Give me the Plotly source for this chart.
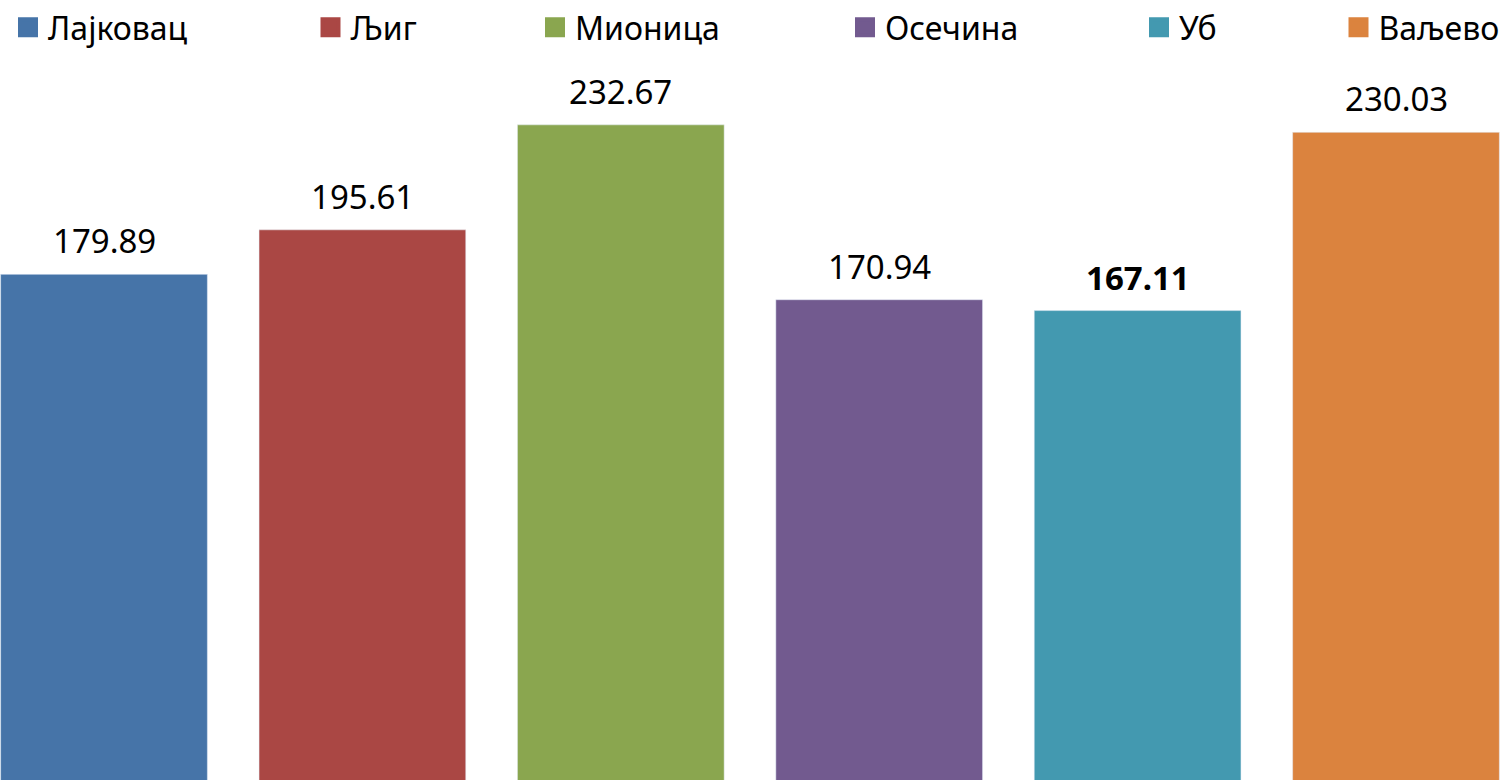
import plotly.graph_objects as go

categories = ["Лајковац", "Љиг", "Мионица", "Осечина", "Уб", "Ваљево"]
values = [179.89, 195.61, 232.67, 170.94, 167.11, 230.03]
colors = ["#4674A8", "#AA4744", "#8AA64F", "#725A8F", "#4399B0", "#DB833E"]
bold_flags = [False, False, False, False, True, False]
legend_centers_px = [26, 328.5, 553, 863, 1157, 1356.5]

W, H = 1506, 780
FONT = "Noto Sans"

fig = go.Figure()
for i, (cat, val, col) in enumerate(zip(categories, values, colors)):
    fig.add_trace(go.Bar(
        x=[cat], y=[val], name=cat, marker_color=col, width=0.8,
        showlegend=False, hoverinfo="x+y",
    ))
    # legend proxy (larger square than plotly's default bar swatch)
    lg = "legend" if i == 0 else f"legend{i + 1}"
    fig.add_trace(go.Scatter(
        x=[None], y=[None], mode="markers", name=cat,
        marker=dict(symbol="square", size=16, color=col, line=dict(color=col, width=4)),
        legend=lg, showlegend=True,
    ))

annotations = []
for cat, val, b in zip(categories, values, bold_flags):
    txt = f"{val:.2f}"
    if b:
        txt = f"<b>{txt}</b>"
    annotations.append(dict(
        x=cat, y=val, xref="x", yref="y", text=txt, showarrow=False,
        yanchor="bottom", xanchor="center", yshift=9,
        font=dict(family=FONT, size=33, color="#000000"),
    ))

layout_legends = {}
for i, cx in enumerate(legend_centers_px):
    key = "legend" if i == 0 else f"legend{i + 1}"
    layout_legends[key] = dict(
        x=(cx - 18) / W, xanchor="left", y=1, yanchor="top",
        orientation="h", bgcolor="rgba(0,0,0,0)", borderwidth=0,
        font=dict(family=FONT, size=32, color="#000000"),
        itemsizing="trace",
    )

# category scale: 258.4 px per category, first category centred at x=104
x_px_per_cat = 258.4
x0 = -104 / x_px_per_cat
x1 = x0 + W / x_px_per_cat
# value scale: 2.833 px per unit, zero at y=784 (just below the bottom edge)
y_px_per_unit = 2.833
y_top = 784 / y_px_per_unit
y_bot = (784 - H) / y_px_per_unit

fig.update_layout(
    width=W, height=H,
    margin=dict(l=0, r=0, t=0, b=0, autoexpand=False),
    paper_bgcolor="white", plot_bgcolor="white",
    barmode="overlay",
    xaxis=dict(type="category", categoryorder="array", categoryarray=categories,
               range=[x0, x1], visible=False, fixedrange=True),
    yaxis=dict(range=[y_bot, y_top], visible=False, fixedrange=True),
    annotations=annotations,
    font=dict(family=FONT),
    **layout_legends,
)

fig.write_html("out.html", config={"displayModeBar": False},
               post_script="document.body.style.margin='0';")
